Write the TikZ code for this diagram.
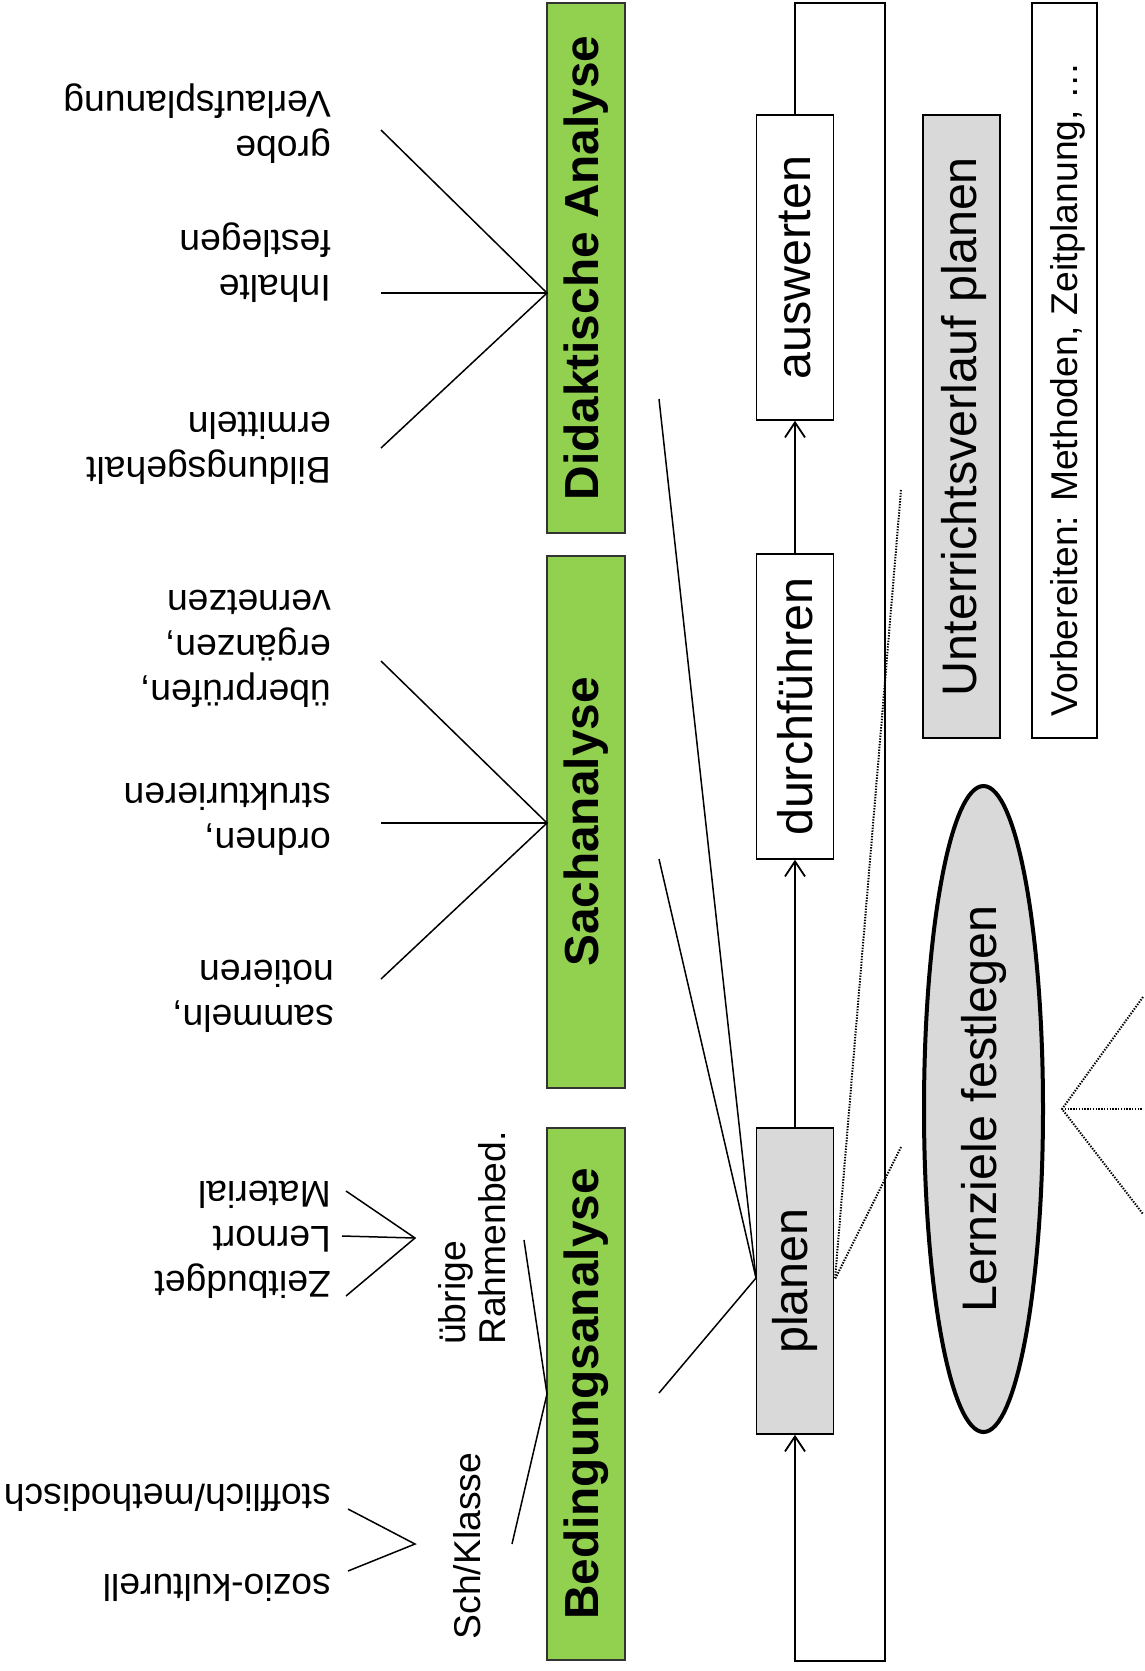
\documentclass[tikz,border=0pt]{standalone}
\usepackage{fontspec}
\setmainfont{Liberation Sans}
\usepackage{graphicx}
\usetikzlibrary{arrows.meta,shapes.geometric}
\definecolor{grn}{HTML}{92D050}
\definecolor{gry}{HTML}{D9D9D9}
\begin{document}
\begin{tikzpicture}[x=1pt,y=-1pt,
  gbox/.style={draw=black!80, fill=grn, line width=1.8pt, minimum width=78pt, inner sep=0pt, font=\fontsize{47.8}{56}\selectfont\bfseries},
  sbox/.style={draw, line width=1.6pt, minimum width=77pt, inner sep=0pt, font=\fontsize{48.5}{56}\selectfont},
  lbl/.style={rotate=180, anchor=west, align=left, inner sep=0pt, font=\fontsize{37.3}{45}\selectfont},
  vlbl/.style={rotate=90, inner sep=0pt, font=\fontsize{37.3}{40}\selectfont},
  fan/.style={line width=1.5pt},
  mainln/.style={line width=2.2pt},
  dotln/.style={line width=2pt, dash pattern=on 1.4pt off 1.4pt},
  tip/.style={-{Straight Barb[length=15pt,width=20pt,line width=1.8pt]}}]
\useasboundingbox (0,0) rectangle (1145,1671);

% green analysis boxes
\node[gbox, minimum height=530pt] (did) at (586,268) {\rotatebox{90}{Didaktische Analyse}};
\node[gbox, minimum height=532pt] (sach) at (586,822) {\rotatebox{90}{Sachanalyse}};
\node[gbox, minimum height=532pt] (bed) at (586,1394) {\rotatebox{90}{Bedingungsanalyse}};

% process boxes
\node[sbox, fill=gry, minimum height=306pt] (plan) at (795,1281) {\rotatebox{90}{planen}};
\node[sbox, fill=white, minimum height=305pt] (durch) at (795,706.5) {\rotatebox{90}{durchführen}};
\node[sbox, fill=white, minimum height=305pt] (ausw) at (795,267.5) {\rotatebox{90}{auswerten}};

\node[sbox, fill=gry, minimum height=623pt] (uv) at (961.5,426.5) {\hspace*{4pt}\rotatebox{90}{Unterrichtsverlauf planen}};
\node[sbox, fill=white, minimum width=65pt, minimum height=735pt] (vb) at (1064.5,370.5) {};
\node[vlbl, anchor=west] (vbt) at (1068,717) {Vorbereiten: Methoden, Zeitplanung, …};

\node[draw, ellipse, line width=4pt, fill=gry, minimum width=119pt, minimum height=646pt, inner sep=0pt,
      font=\fontsize{48.5}{56}\selectfont] (lz) at (983.5,1109) {\rotatebox{90}{Lernziele festlegen}};

% arrows and loop
\coordinate (lt) at (795,3);
\coordinate (rt) at (885,3);
\coordinate (rb) at (885,1661);
\coordinate (lb) at (795,1661);
\draw[mainln, tip] (plan.north) -- (durch.south);
\draw[mainln, tip] (durch.north) -- (ausw.south);
\draw[mainln, tip] (ausw.north) -- (lt) -- (rt) -- (rb) -- (lb) -- (plan.south);

% lines from planen
\coordinate (pL) at (756,1278);
\coordinate (pe1) at (659,399);
\coordinate (pe2) at (659,859);
\coordinate (pe3) at (659,1393);
\draw[fan] (pe1) -- (pL) -- (pe3);
\draw[fan] (pe2) -- (pL);
\coordinate (pR) at (835,1279);
\coordinate (pd1) at (901,490);
\coordinate (pd2) at (901,1147);
\draw[dotln] (pd1) -- (pR) -- (pd2);

% dotted fan from Lernziele
\coordinate (lzA) at (1062,1109);
\coordinate (lz1) at (1143,997);
\coordinate (lz2) at (1143,1109);
\coordinate (lz3) at (1143,1214);
\draw[dotln] (lz1) -- (lzA) -- (lz3);
\draw[dotln] (lzA) -- (lz2);

% Didaktische Analyse fan
\coordinate (dA) at (547,293);
\coordinate (d1) at (381,130);
\coordinate (d2) at (381,293);
\coordinate (d3) at (381,448);
\draw[fan] (d1) -- (dA) -- (d3);
\draw[fan] (d2) -- (dA);
\node[lbl] (tgrobe) at (331,124) {grobe\\Verlaufsplanung};
\node[lbl] (tinh) at (331,263) {Inhalte\\festlegen};
\node[lbl] (tbild) at (331,448) {Bildungsgehalt\\ermitteln};

% Sachanalyse fan
\coordinate (sA) at (547,823);
\coordinate (s1) at (381,661);
\coordinate (s2) at (381,823);
\coordinate (s3) at (381,979);
\draw[fan] (s1) -- (sA) -- (s3);
\draw[fan] (s2) -- (sA);
\node[lbl] (tueb) at (331,649) {überprüfen,\\ergänzen,\\vernetzen};
\node[lbl] (tord) at (331,819) {ordnen,\\strukturieren};
\node[lbl] (tsam) at (334,996) {sammeln,\\notieren};

% Bedingungsanalyse fan
\coordinate (bA) at (547,1394);
\coordinate (b1) at (524,1240);
\coordinate (b2) at (512,1544);
\draw[fan] (b1) -- (bA) -- (b2);
\node[vlbl, anchor=west, align=left] (trahm) at (472,1345) {übrige\\Rahmenbed.};
\node[vlbl] (tsch) at (467,1546) {Sch/Klasse};

\coordinate (uA) at (415,1238);
\coordinate (u1) at (346,1191);
\coordinate (u2) at (342,1236);
\coordinate (u3) at (346,1296);
\draw[fan] (u1) -- (uA) -- (u3);
\draw[fan] (u2) -- (uA);
\node[lbl] (tzeit) at (331,1240) {Zeitbudget\\Lernort\\Material};

\coordinate (kA) at (415,1544);
\coordinate (k1) at (348,1509);
\coordinate (k2) at (348,1571);
\draw[fan] (k1) -- (kA) -- (k2);
\node[lbl] (tstoff) at (331,1498) {stofflich/methodisch};
\node[lbl] (tsozio) at (331,1588) {sozio-kulturell};
\end{tikzpicture}
\end{document}
